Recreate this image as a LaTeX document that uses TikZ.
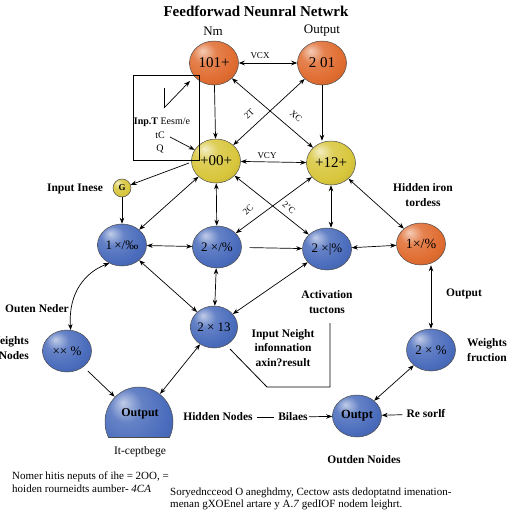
\documentclass[tikz,border=0pt]{standalone}
\usepackage{fontspec}
\setmainfont{Liberation Serif}
\usetikzlibrary{shapes.geometric,arrows.meta}
\definecolor{om}{RGB}{224,108,48}
\definecolor{ym}{RGB}{216,198,60}
\definecolor{bm}{RGB}{74,108,188}
\pgfdeclareradialshading{shO}{\pgfqpoint{-12bp}{14bp}}{color(0bp)=(om!35!white); color(12bp)=(om!85!white); color(28bp)=(om); color(48bp)=(om!80!black); color(66bp)=(om!55!black)}
\pgfdeclareradialshading{shY}{\pgfqpoint{-12bp}{14bp}}{color(0bp)=(ym!30!white); color(12bp)=(ym!85!white); color(28bp)=(ym); color(48bp)=(ym!80!black); color(66bp)=(ym!55!black)}
\pgfdeclareradialshading{shB}{\pgfqpoint{-12bp}{14bp}}{color(0bp)=(bm!35!white); color(12bp)=(bm!85!white); color(28bp)=(bm); color(48bp)=(bm!80!black); color(66bp)=(bm!55!black)}
\begin{document}
\begin{tikzpicture}[x=1pt,y=-1pt,
  bnode/.style={ellipse,draw=black!70,line width=0.5pt,inner sep=0pt,shade},
  nO/.style={bnode,shading=shO,minimum width=49pt,minimum height=44pt,font=\fontsize{15}{15}\selectfont},
  nY/.style={bnode,shading=shY,minimum width=49pt,minimum height=44pt,font=\fontsize{15}{15}\selectfont},
  nB/.style={bnode,shading=shB,minimum width=49pt,minimum height=42pt,font=\fontsize{13}{13}\selectfont},
  arr/.style={-{Stealth[length=6pt,width=4.5pt]},line width=0.7pt},
  darr/.style={{Stealth[length=6pt,width=4.5pt]}-{Stealth[length=6pt,width=4.5pt]},line width=0.7pt},
  lab/.style={font=\fontsize{11.5}{14.5}\selectfont\bfseries,align=center,inner sep=1pt},
  toplab/.style={font=\fontsize{13}{13}\selectfont,inner sep=1pt},
  el/.style={font=\fontsize{9}{9}\selectfont,inner sep=0pt},
  plain/.style={line width=0.8pt},
  txt/.style={font=\fontsize{11}{13}\selectfont,align=left,anchor=west,inner sep=0pt}
]
\useasboundingbox (0,0) rectangle (512,512);
\fill[white] (0,0) rectangle (512,512);

% title
\node[font=\bfseries\fontsize{15}{15}\selectfont] (title) at (256,11) {Feedforwad Neunral Netwrk};

% top nodes
\node[nO] (t1) at (214,63) {101+};
\node[nO] (t2) at (322,63) {2 01};
\node[toplab] (lnm) at (213,31) {Nm};
\node[toplab] (lout) at (322,31) {Output};
\node[nY] (y1) at (216,161) {+00+};
\node[nY] (y2) at (331,163) {+12+};

\draw[darr] (t1) -- (t2);
\node[el] (lvcx) at (260,56) {VCX};
\draw[arr] (t1) -- (y1);
\draw[arr] (t2.south) -- (t2.south |- y2.north);
\draw[darr] (t1) -- (y2);
\draw[darr] (t2) -- (y1);
\node[el,rotate=45] (l2t) at (249,114) {2T};
\node[el,rotate=-40] (lxc) at (296,116) {XC};
\draw[darr] (y1) -- (y2);
\node[el] (lvcy) at (267,156) {VCY};

% box
\node[draw,line width=0.8pt,minimum width=66pt,minimum height=85pt,inner sep=0pt] (box) at (166,117.5) {};
\coordinate (k1) at (164,88);
\coordinate (k2) at (164,108);
\coordinate (k3) at (190,81);
\draw[plain] (k1) -- (k2);
\draw[arr] (k2) -- (k3);
\node[font=\fontsize{10}{10}\selectfont,inner sep=0pt] (bt1) at (162,122) {\textbf{Inp.T} Eesm/e};
\node[font=\fontsize{10}{10}\selectfont,inner sep=0pt] (bt2) at (160,135) {tC};
\node[font=\fontsize{10}{10}\selectfont,inner sep=0pt] (bt3) at (160,149) {Q};
\coordinate (k4) at (170,137);
\draw[arr] (k4) -- (y1);

% G
\node[bnode,shading=shY,minimum width=18pt,minimum height=18pt,font=\bfseries\fontsize{9}{9}\selectfont] (g) at (122,188) {G};
\node[lab] (lin) at (75,189) {Input Inese};
\coordinate (gs) at (189,163);
\draw[arr] (gs) -- (g);

% blue row
\node[nB] (b1) at (122,245) {1\,×/‰};
\node[nB] (b2) at (217,247) {2 ×/\%};
\node[nB] (b3) at (327,249) {2 ×|\%};
\node[nO,minimum height=42pt,font=\fontsize{14}{14}\selectfont] (o3) at (421,244) {1×/\%};
\node[nB,minimum width=43pt] (b4) at (214,327) {2 × 13};
\node[nB] (b5) at (67,351) {××~\%};
\node[nB] (b6) at (431,350) {2 × \%};
\node[nB,font=\bfseries\fontsize{12.5}{12.5}\selectfont] (b7) at (357,416) {Outpt};

\draw[arr] (g) -- (b1);
\draw[darr] (y1) -- (b1);
\draw[darr] (y1) -- (b2);
\draw[darr] (y1) -- (b3);
\draw[darr] (y2) -- (b2);
\draw[darr] (y2.south) -- (y2.south |- b3.north);
\draw[darr] (y2) -- (o3);
\node[el,rotate=45] (l2c) at (248,210) {2C};
\node[el,rotate=-40] (l2pc) at (289,208) {2'C};
\draw[darr] (b1) -- (b2);
\draw[arr,shorten <=8pt] (b2) -- (b3);
\draw[darr] (b3) -- (o3);
\draw[darr] (b1) -- (b4);
\draw[darr] (b2) -- (b4);
\draw[darr] (b3) -- (b4);
\draw[darr] (b6.north |- o3.south) -- (b6.north);
\draw[darr] (b6) -- (b7);

% polyline
\coordinate (p0) at (230,349);
\coordinate (p1) at (267,387);
\coordinate (p2) at (330,387);
\coordinate (p3) at (330,323);
\draw[plain] (p0) -- (p1) -- (p2) -- (p3);

% dome output
\begin{scope}
\clip (95,380) rectangle (185,437);
\shade[shading=shB] (139,422) ellipse [x radius=34, y radius=35];
\draw[black!70,line width=0.5pt] (139,422) ellipse [x radius=34, y radius=35];
\end{scope}
\draw[black!70,line width=0.5pt] (108.3,437) -- (169.7,437);
\node[ellipse,minimum width=68pt,minimum height=66pt,inner sep=0pt] (outA) at (139,420) {};
\node[font=\bfseries\fontsize{12}{12}\selectfont] (outAt) at (140,414) {Output};
\node[font=\fontsize{11.5}{11.5}\selectfont] (lcep) at (140,452) {It-ceptbege};

\draw[darr] (b5.80) .. controls (68,292) and (86,272) .. (b1.235);
\draw[arr,shorten <=6pt] (b5) -- (outA);
\draw[darr] (outA) -- (b4);

% labels
\node[lab] (lhid) at (423,195) {Hidden iron\\tordess};
\node[lab] (lact) at (327,302) {Activation\\tuctons};
\node[lab] (lout2) at (464,294) {Output};
\node[lab] (linw) at (283,348) {Input Neight\\infonnation\\axin?result};
\node[lab] (lwf) at (487,350) {Weights\\fruction};
\node[lab] (lon) at (37,309) {Outen Neder};
\node[lab,align=right,anchor=east] (lwn) at (30,348) {Weights\\Nodes};
\node[lab] (lod) at (364,460) {Outden Noides};

\node[lab] (hn) at (218,417) {Hidden Nodes};
\node[lab] (bl) at (293,417) {Bilaes};
\draw[plain,shorten <=3pt,shorten >=3pt] (hn) -- (bl);
\draw[arr] (bl) -- (b7);
\node[lab] (rs) at (426,414) {Re sorlf};
\draw[arr,shorten <=3pt] (rs) -- (b7);

% bottom text
\node[txt] (bt) at (12,482) {Nomer hitis neputs of ihe = 2OO, =\\hoiden rourneidts aumber- \textit{4CA}};
\node[txt,font=\fontsize{11}{12.5}\selectfont] (br) at (170,499) {Soryedncceod O aneghdmy, Cectow asts dedoptatnd imenation-\\menan gXOEnel artare y A.\textit{7} gedIOF nodem leighrt.};
\end{tikzpicture}
\end{document}
